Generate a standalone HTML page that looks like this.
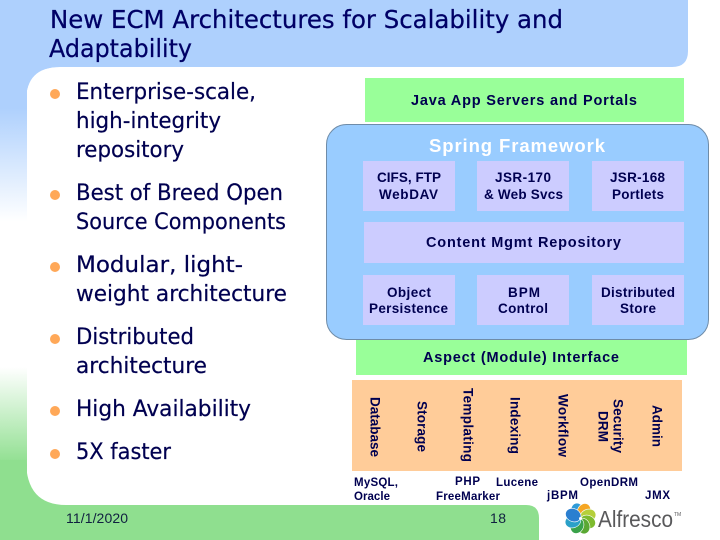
<!DOCTYPE html>
<html><head><meta charset="utf-8">
<style>html,body{margin:0;padding:0;background:#fff}svg{display:block}</style></head>
<body>
<svg width="720" height="540" viewBox="0 0 720 540" xmlns="http://www.w3.org/2000/svg">
<defs>
<linearGradient id="g" x1="0" y1="0" x2="0" y2="1">
<stop offset="0" stop-color="#aed0fd"/><stop offset="0.2" stop-color="#aed0fd"/><stop offset="0.41" stop-color="#ffffff"/><stop offset="0.68" stop-color="#ffffff"/><stop offset="0.86" stop-color="#8fdf8f"/><stop offset="1" stop-color="#8fdf8f"/>
</linearGradient>
</defs>
<rect width="720" height="540" fill="#fff"/>
<rect x="0" y="0" width="27" height="540" fill="url(#g)"/>
<path d="M0 0H688V51Q688 67 672 67H60Q26 67 26 101V0Z" fill="#aed0fd"/>
<path d="M0 0H60V67Q26 67 26 101V60H0Z" fill="#aed0fd"/>
<path d="M26 460Q26 505 66 505H526Q539 505 539 518V540H0V460Z" fill="#8fdf8f"/>

<g font-family="'DejaVu Sans',sans-serif" fill="#000066" stroke="#000066" stroke-width="0.250" font-size="25">
<text x="50" y="28" textLength="513" lengthAdjust="spacingAndGlyphs">New ECM Architectures for Scalability and</text>
<text x="49" y="57" textLength="143" lengthAdjust="spacingAndGlyphs">Adaptability</text>
</g>

<g fill="#ffa858">
<circle cx="55" cy="94" r="5"/><circle cx="55" cy="195" r="5"/><circle cx="55" cy="267" r="5"/><circle cx="55" cy="339" r="5"/><circle cx="55" cy="411" r="5"/><circle cx="55" cy="454" r="5"/>
</g>
<g font-family="'DejaVu Sans',sans-serif" fill="#000050" stroke="#000050" stroke-width="0.200" font-size="22">
<text x="76" y="99" textLength="180" lengthAdjust="spacingAndGlyphs">Enterprise-scale,</text>
<text x="76" y="128" textLength="145" lengthAdjust="spacingAndGlyphs">high-integrity</text>
<text x="76" y="157" textLength="108" lengthAdjust="spacingAndGlyphs">repository</text>
<text x="76" y="200" textLength="207" lengthAdjust="spacingAndGlyphs">Best of Breed Open</text>
<text x="76" y="229" textLength="210" lengthAdjust="spacingAndGlyphs">Source Components</text>
<text x="76" y="272" textLength="167" lengthAdjust="spacingAndGlyphs">Modular, light-</text>
<text x="76" y="301" textLength="211" lengthAdjust="spacingAndGlyphs">weight architecture</text>
<text x="76" y="344" textLength="118" lengthAdjust="spacingAndGlyphs">Distributed</text>
<text x="76" y="373" textLength="131" lengthAdjust="spacingAndGlyphs">architecture</text>
<text x="76" y="416" textLength="175" lengthAdjust="spacingAndGlyphs">High Availability</text>
<text x="76" y="459" textLength="95" lengthAdjust="spacingAndGlyphs">5X faster</text>
</g>

<rect x="365" y="78" width="319" height="44" fill="#99ff99"/>
<rect x="356" y="335" width="331" height="40" fill="#99ff99"/>
<rect x="326.500" y="124.500" width="382" height="215" rx="20" fill="#99ccff" stroke="#6f8ca8" stroke-width="1"/>
<g fill="#ccccff">
<rect x="363" y="161" width="92" height="50"/><rect x="477" y="161" width="92" height="50"/><rect x="592" y="161" width="92" height="50"/>
<rect x="364" y="222" width="320" height="41"/>
<rect x="363" y="275" width="92" height="50"/><rect x="477" y="275" width="92" height="50"/><rect x="592" y="275" width="92" height="50"/>
</g>
<rect x="352" y="380" width="330" height="91" fill="#ffcc99"/>

<g font-family="'Liberation Sans',sans-serif" font-weight="bold" fill="#000050" font-size="14.500">
<text x="411" y="105" textLength="226" lengthAdjust="spacing">Java App Servers and Portals</text>
<text x="429" y="152" textLength="176" font-size="18.500" fill="#ffffff" lengthAdjust="spacing">Spring Framework</text>
<g font-size="13.500">
<text x="377" y="182" textLength="64" lengthAdjust="spacing">CIFS, FTP</text>
<text x="379" y="199" textLength="59" lengthAdjust="spacing">WebDAV</text>
<text x="495" y="182" textLength="56" lengthAdjust="spacing">JSR-170</text>
<text x="484" y="199" textLength="79" lengthAdjust="spacing">&amp; Web Svcs</text>
<text x="610" y="182" textLength="55" lengthAdjust="spacing">JSR-168</text>
<text x="612" y="199" textLength="52" lengthAdjust="spacing">Portlets</text>
<text x="387" y="297" textLength="44" lengthAdjust="spacing">Object</text>
<text x="369" y="313" textLength="79" lengthAdjust="spacing">Persistence</text>
<text x="508" y="297" textLength="32" lengthAdjust="spacing">BPM</text>
<text x="498" y="313" textLength="50" lengthAdjust="spacing">Control</text>
<text x="601" y="297" textLength="74" lengthAdjust="spacing">Distributed</text>
<text x="620" y="313" textLength="36" lengthAdjust="spacing">Store</text>
</g>
<text x="426" y="247" textLength="195" lengthAdjust="spacing">Content Mgmt Repository</text>
<text x="423" y="362" textLength="196" lengthAdjust="spacing">Aspect (Module) Interface</text>

<g font-size="13.500">
<text transform="translate(370.500 397) rotate(90)" textLength="60" lengthAdjust="spacing">Database</text>
<text transform="translate(417.500 401) rotate(90)" textLength="51" lengthAdjust="spacing">Storage</text>
<text transform="translate(463.500 388) rotate(90)" textLength="74" lengthAdjust="spacing">Templating</text>
<text transform="translate(510.500 397) rotate(90)" textLength="57" lengthAdjust="spacing">Indexing</text>
<text transform="translate(558.500 394) rotate(90)" textLength="63" lengthAdjust="spacing">Workflow</text>
<text transform="translate(613.500 399) rotate(90)" textLength="54" lengthAdjust="spacing">Security</text>
<text transform="translate(598.500 411) rotate(90)" textLength="31" lengthAdjust="spacing">DRM</text>
<text transform="translate(652.500 405) rotate(90)" textLength="42" lengthAdjust="spacing">Admin</text>
</g>

<g font-size="11.500">
<text x="354" y="486" textLength="44" lengthAdjust="spacing">MySQL,</text>
<text x="354" y="500" textLength="36" lengthAdjust="spacing">Oracle</text>
<text x="455" y="485" textLength="25" lengthAdjust="spacing">PHP</text>
<text x="496" y="486" textLength="42" lengthAdjust="spacing">Lucene</text>
<text x="580" y="486" textLength="58" lengthAdjust="spacing">OpenDRM</text>
<text x="436" y="500" textLength="64" lengthAdjust="spacing">FreeMarker</text>
<text x="547" y="499" textLength="31" lengthAdjust="spacing">jBPM</text>
<text x="645" y="499" textLength="25" lengthAdjust="spacing">JMX</text>
</g>
</g>

<g font-family="'Liberation Sans',sans-serif" fill="#102040" font-size="14">
<text x="66" y="523" textLength="62" lengthAdjust="spacing">11/1/2020</text>
<text x="490" y="523" textLength="16" lengthAdjust="spacing">18</text>
</g>

<!-- logo -->
<g transform="translate(580.500 518.500)">
<g stroke="#ffffff" stroke-width="0.600">
<ellipse cx="0" cy="-8" rx="6.500" ry="8" transform="rotate(-20)" fill="#2f9bd8"/>
<ellipse cx="0" cy="-8" rx="6.500" ry="8" transform="rotate(25)" fill="#f5a623"/>
<ellipse cx="0" cy="-8" rx="6.500" ry="8" transform="rotate(70)" fill="#b5cf3a"/>
<ellipse cx="0" cy="-8" rx="6.500" ry="8" transform="rotate(115)" fill="#7dbb2e"/>
<ellipse cx="0" cy="-8" rx="6.500" ry="8" transform="rotate(160)" fill="#5aa832"/>
<ellipse cx="0" cy="-8" rx="6.500" ry="8" transform="rotate(205)" fill="#3aa24a"/>
<ellipse cx="0" cy="-8" rx="6.500" ry="8" transform="rotate(250)" fill="#2aa0c8"/>
<ellipse cx="0" cy="-8" rx="6.500" ry="8" transform="rotate(295)" fill="#2b7fd0"/>
</g>
<circle r="1.500" fill="#ffffff"/>
</g>
<text x="598" y="527" font-family="'Liberation Sans',sans-serif" font-size="23" fill="#59595b" textLength="75" lengthAdjust="spacingAndGlyphs">Alfresco</text>
<text x="674" y="516" font-family="'Liberation Sans',sans-serif" font-size="5" fill="#59595b">TM</text>
</svg>
</body></html>
